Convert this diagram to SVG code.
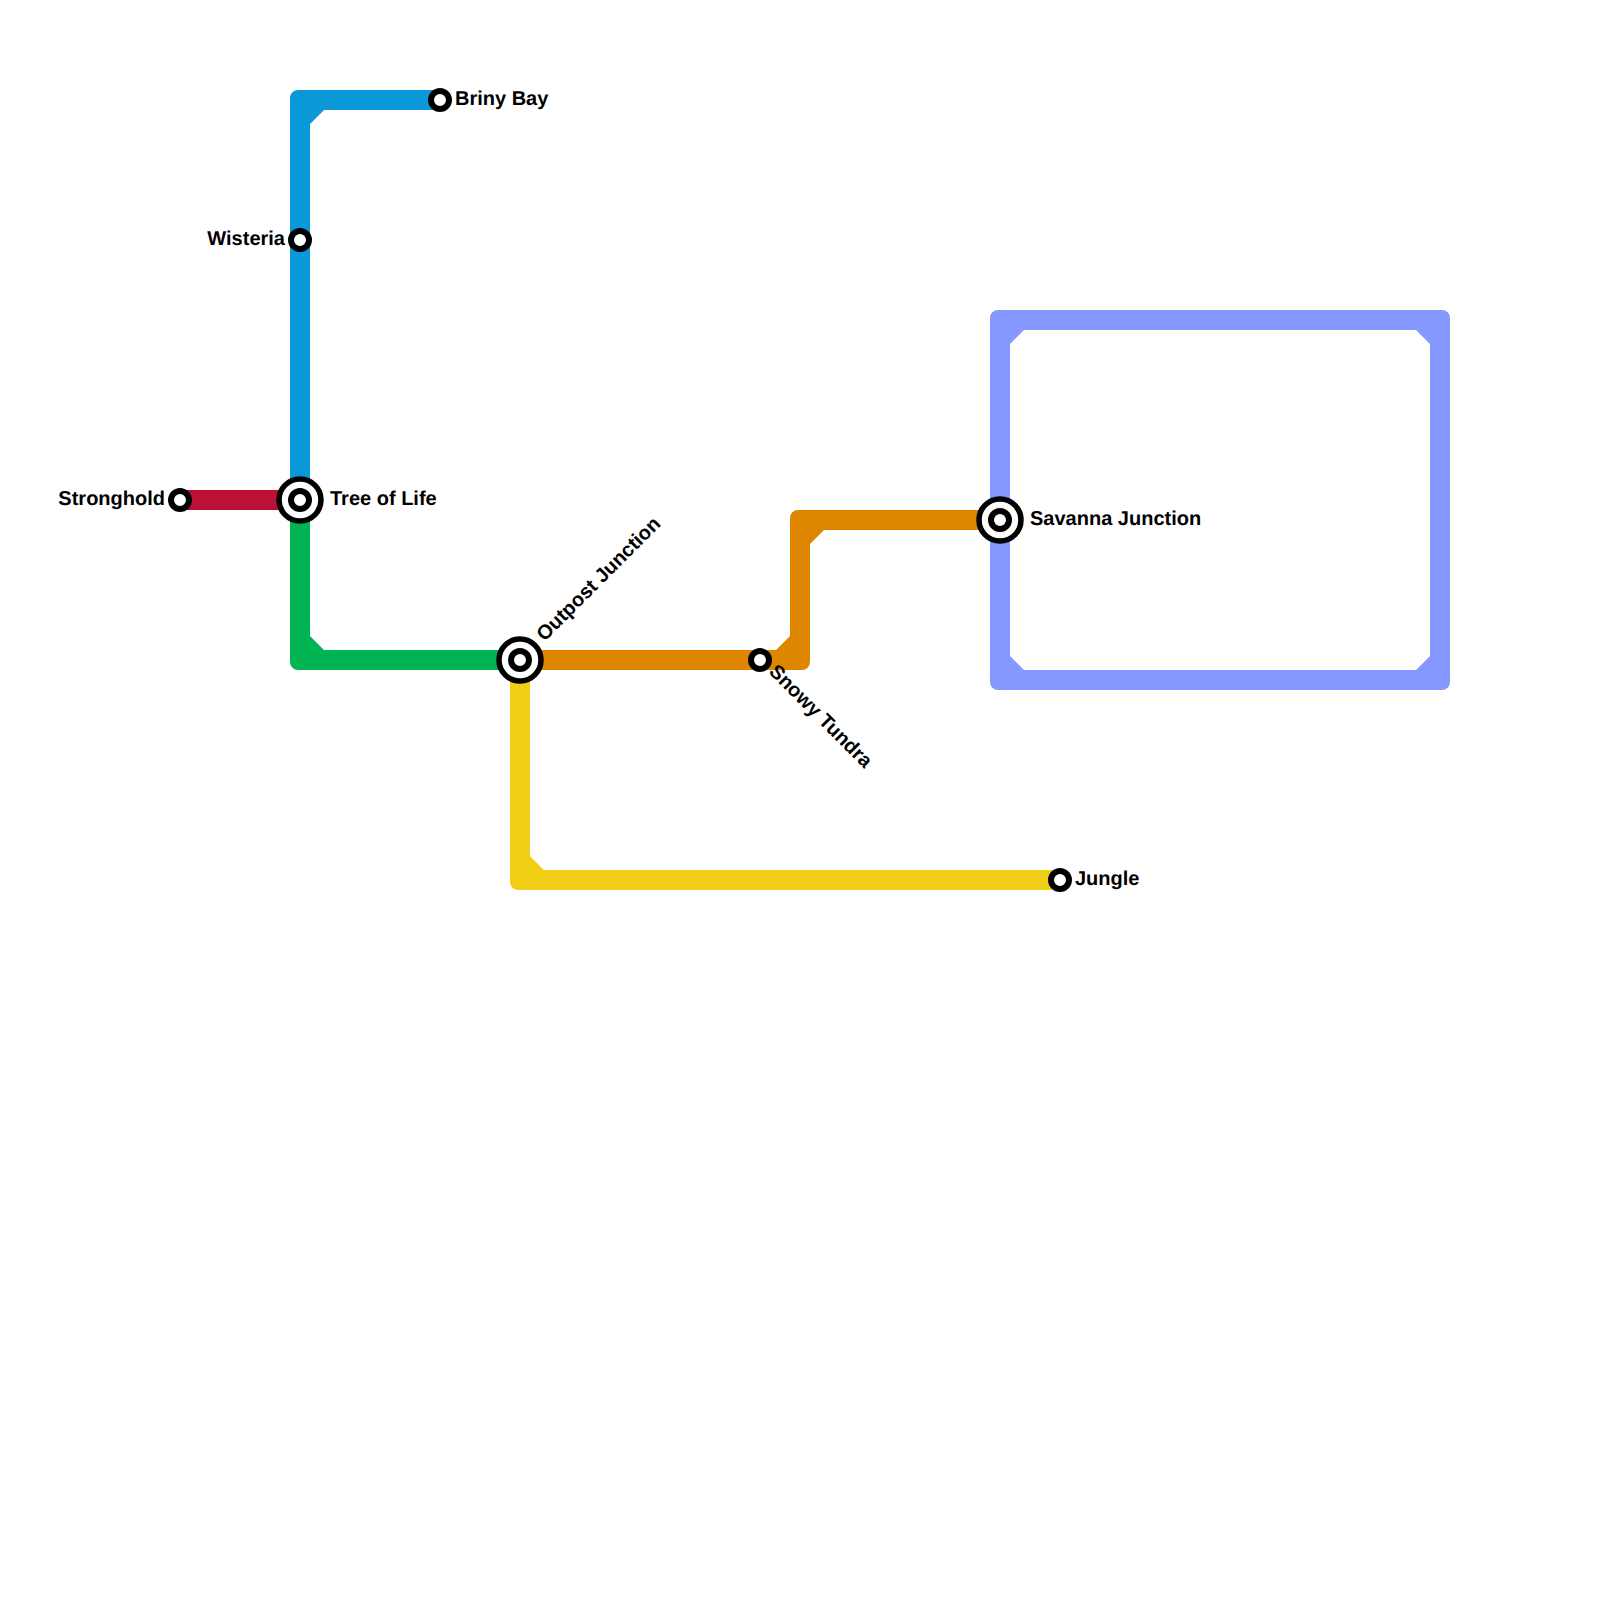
<svg xmlns="http://www.w3.org/2000/svg" width="1600" height="1600" viewBox="0 0 1600 1600">
<style>
text{font-family:"Liberation Sans",Arial,sans-serif;font-size:20px;font-weight:700;fill:#000;text-rendering:geometricPrecision}
.s{fill:#fff;stroke:#000;stroke-width:6}
.b{fill:#fff;stroke:#000;stroke-width:5.500}
</style>
<rect width="1600" height="1600" fill="#fff"/>
<g id="connectors">
<path fill="#bd1038" d="M180 490H300V510H180Z"/>
<path fill="#0a98d8" d="M440 90H298A8 8 0 0 0 290 98V500H310V124L324 110H440Z"/>
<path fill="#00b451" d="M290 500V662A8 8 0 0 0 298 670H520V650H324L310 636V500Z"/>
<path fill="#f0ce15" d="M510 660V882A8 8 0 0 0 518 890H1060V870H544L530 856V660Z"/>
<path fill="#df8600" d="M520 650H776L790 636V518A8 8 0 0 1 798 510H1000V530H824L810 544V662A8 8 0 0 1 802 670H520Z"/>
<path fill="#8598ff" fill-rule="evenodd" d="M998 310H1442A8 8 0 0 1 1450 318V682A8 8 0 0 1 1442 690H998A8 8 0 0 1 990 682V318A8 8 0 0 1 998 310ZM1024 330L1010 344V656L1024 670H1416L1430 656V344L1416 330Z"/>
</g>
<g id="stronghold"><circle class="s" cx="180" cy="500" r="9"/><text x="165" y="505" text-anchor="end">Stronghold</text></g>
<g id="wisteria"><circle class="s" cx="300" cy="240" r="9"/><text x="285" y="245" text-anchor="end">Wisteria</text></g>
<g id="briny-bay"><circle class="s" cx="440" cy="100" r="9"/><text x="455" y="105">Briny Bay</text></g>
<g id="tree-of-life"><circle class="b" cx="300" cy="500" r="21"/><circle class="s" cx="300" cy="500" r="9"/><text x="330" y="505">Tree of Life</text></g>
<g id="outpost-junction"><circle class="b" cx="520" cy="660" r="21"/><circle class="s" cx="520" cy="660" r="9"/><text transform="translate(544.500 642) rotate(-45)">Outpost Junction</text></g>
<g id="snowy-tundra"><circle class="s" cx="760" cy="660" r="9"/><text transform="translate(768 672.500) rotate(45)">Snowy Tundra</text></g>
<g id="savanna-junction"><circle class="b" cx="1000" cy="520" r="21"/><circle class="s" cx="1000" cy="520" r="9"/><text x="1030" y="525">Savanna Junction</text></g>
<g id="jungle"><circle class="s" cx="1060" cy="880" r="9"/><text x="1075" y="885">Jungle</text></g>
</svg>
